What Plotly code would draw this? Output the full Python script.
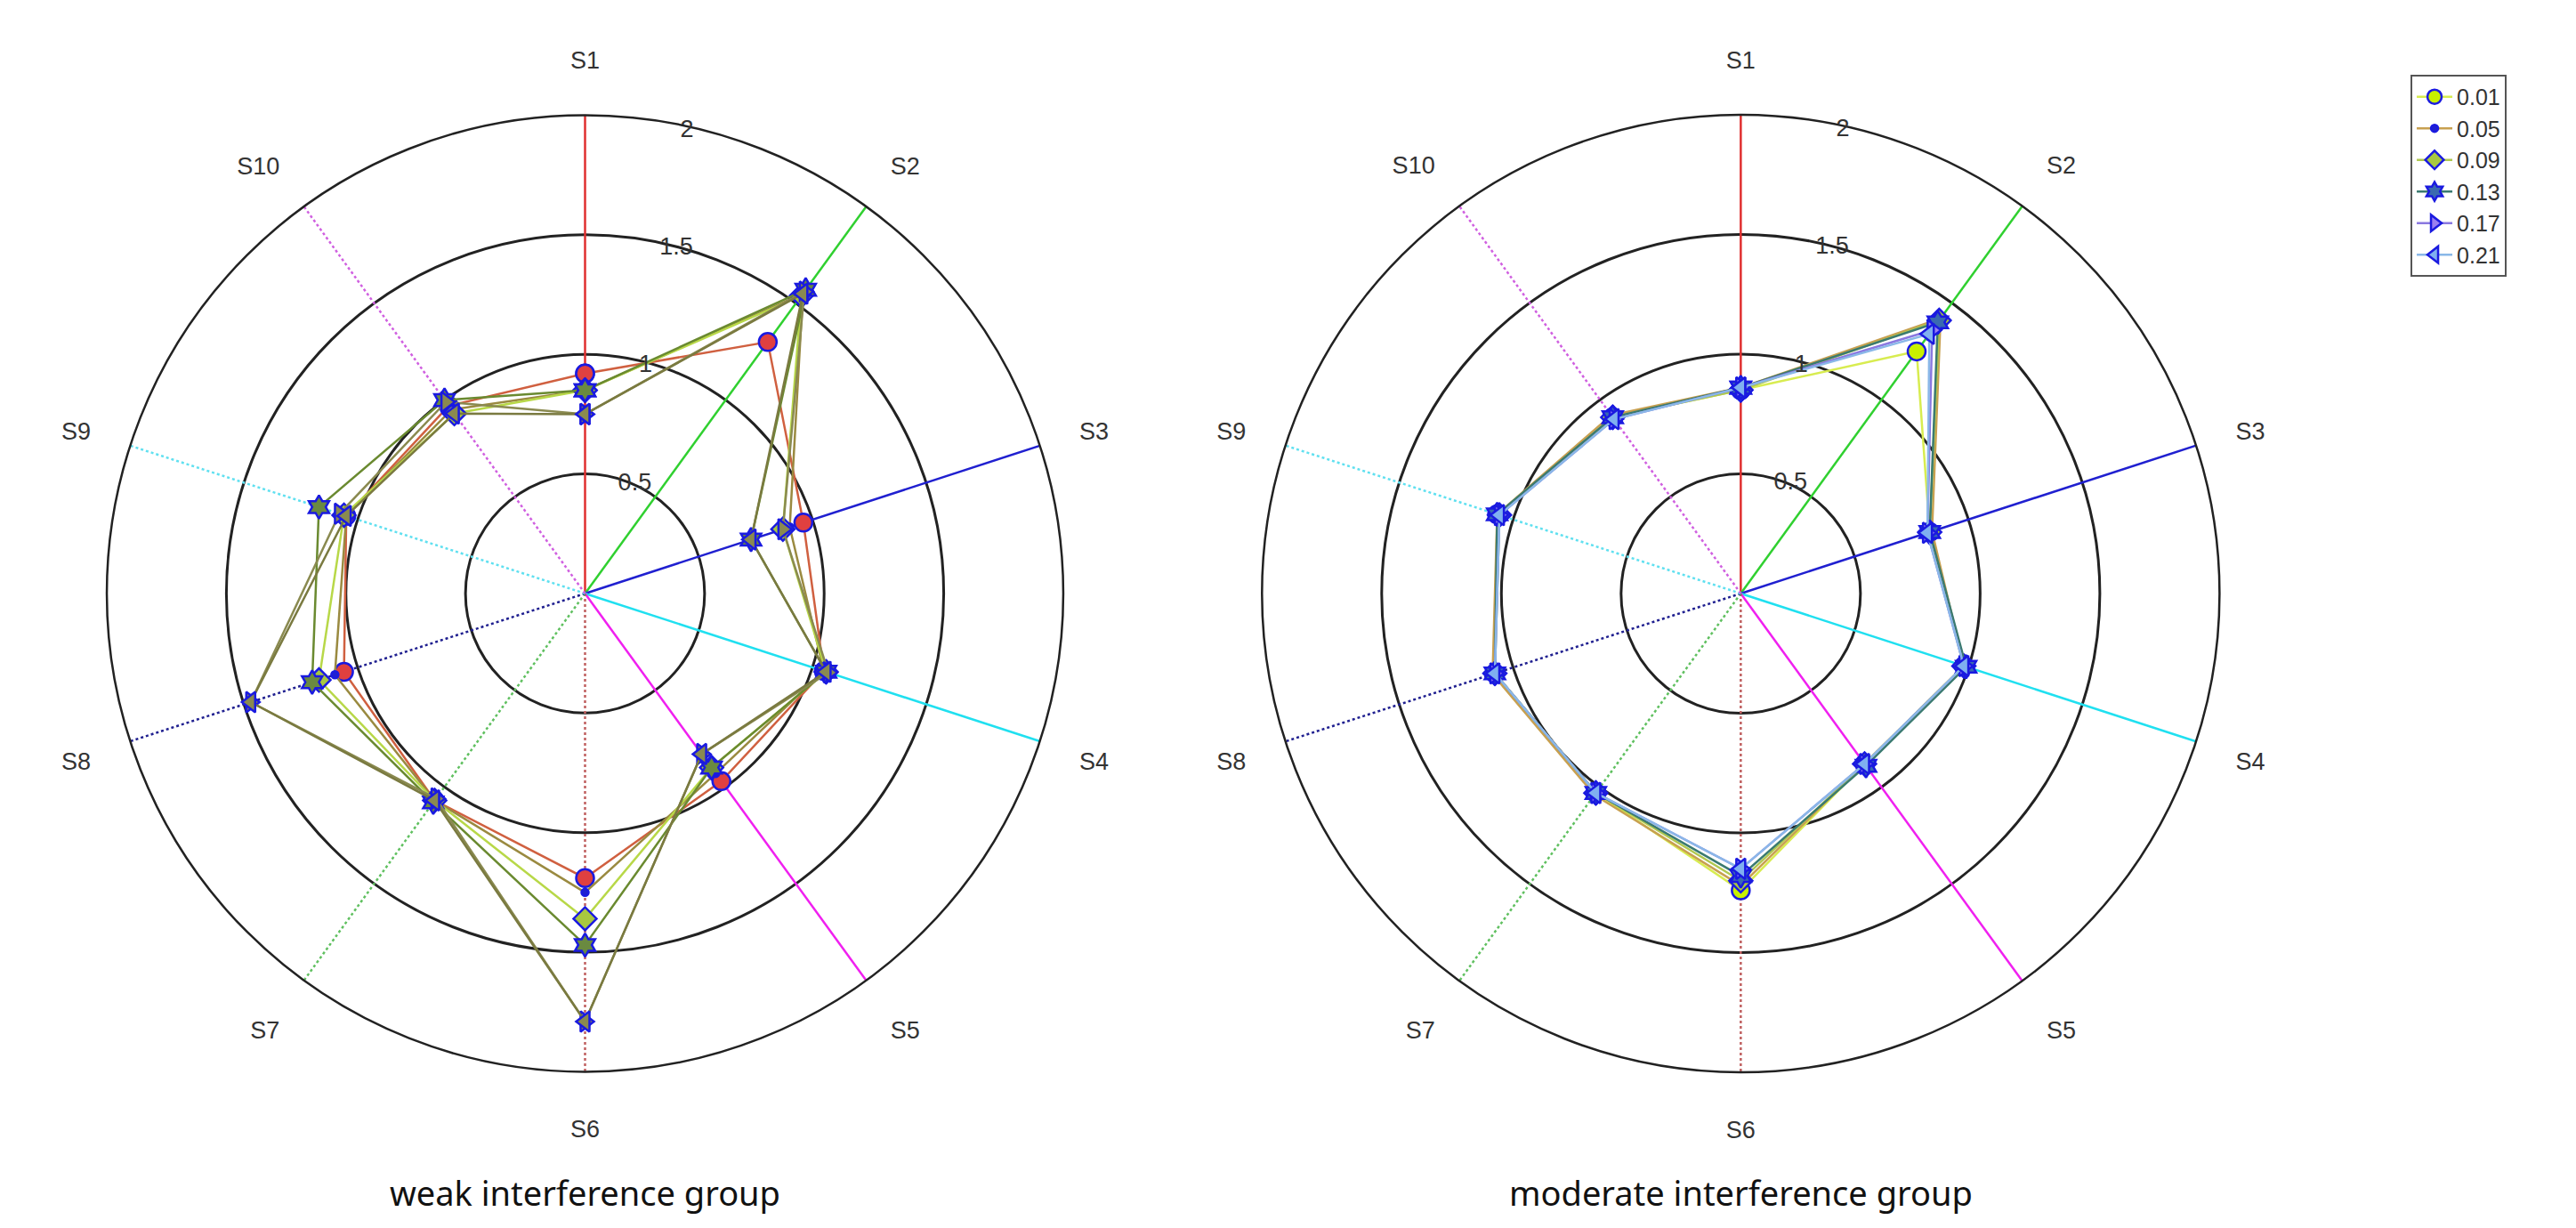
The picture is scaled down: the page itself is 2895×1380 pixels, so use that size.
import plotly.graph_objects as go

spokes = ["S1", "S2", "S3", "S4", "S5", "S6", "S7", "S8", "S9", "S10"]
angles = [0, 36, 72, 108, 144, 180, 216, 252, 288, 324]
series_names = ["0.01", "0.05", "0.09", "0.13", "0.17", "0.21"]

weak = {
    "0.01": [0.92, 1.30, 0.96, 1.05, 0.97, 1.19, 1.07, 1.06, 1.05, 0.97],
    "0.05": [0.85, 1.55, 0.90, 1.05, 0.93, 1.25, 1.07, 1.10, 1.05, 0.95],
    "0.09": [0.85, 1.54, 0.87, 1.06, 0.90, 1.36, 1.07, 1.17, 1.06, 0.93],
    "0.13": [0.85, 1.57, 0.73, 1.06, 0.90, 1.47, 1.08, 1.20, 1.17, 1.00],
    "0.17": [0.75, 1.56, 0.87, 1.07, 0.83, 1.79, 1.06, 1.47, 1.08, 0.99],
    "0.21": [0.75, 1.55, 0.73, 1.06, 0.83, 1.79, 1.07, 1.47, 1.05, 0.93],
}
moderate = {
    "0.01": [0.85, 1.25, 0.83, 0.98, 0.88, 1.24, 1.03, 1.08, 1.07, 0.91],
    "0.05": [0.86, 1.42, 0.84, 0.98, 0.88, 1.22, 1.04, 1.09, 1.07, 0.92],
    "0.09": [0.85, 1.41, 0.83, 0.98, 0.88, 1.20, 1.03, 1.08, 1.06, 0.91],
    "0.13": [0.86, 1.40, 0.83, 0.99, 0.89, 1.18, 1.03, 1.08, 1.07, 0.91],
    "0.17": [0.86, 1.36, 0.82, 0.98, 0.88, 1.15, 1.03, 1.08, 1.06, 0.90],
    "0.21": [0.86, 1.34, 0.82, 0.98, 0.88, 1.15, 1.03, 1.08, 1.06, 0.90],
}

spoke_colors = ["#e03030", "#30d030", "#2020d0", "#20e0f0", "#f020f0",
                "#c06060", "#60c060", "#202090", "#60e0f0", "#d060e0"]
spoke_dash = ["solid"] * 5 + ["dot"] * 5

symbols = ["circle", "circle", "diamond", "hexagram", "triangle-right", "triangle-left"]
sizes = [20, 8, 20, 20, 20, 20]
fills_right = ["#c8f000", "#2020d0", "#a8c840", "#3a6ab0", "#9a80f0", "#80b0f0"]
lines_right = ["#d8ec50", "#c8a050", "#b0c850", "#3a7a70", "#8a78e0", "#8ab8e8"]
fills_left = ["#e04040", "#2020d0", "#a8c840", "#6a8a40", "#8a8a50", "#8a8a50"]
lines_left = ["#d06040", "#9a8a40", "#b8d848", "#6a8a30", "#8a8a50", "#7a7a40"]

fig = go.Figure()

for pname in ["polar", "polar2"]:
    for i, a in enumerate(angles):
        fig.add_trace(go.Scatterpolar(
            r=[0, 2], theta=[a, a], mode="lines", subplot=pname,
            line=dict(color=spoke_colors[i], width=2.5, dash=spoke_dash[i]),
            showlegend=False, hoverinfo="skip"))

for pname, data, fills, lines, showleg in [("polar", weak, fills_left, lines_left, False),
                                           ("polar2", moderate, fills_right, lines_right, True)]:
    for k, name in enumerate(series_names):
        vals = data[name]
        fig.add_trace(go.Scatterpolar(
            r=vals + vals[:1], theta=angles + angles[:1], mode="lines+markers",
            subplot=pname, name=name, showlegend=showleg,
            line=dict(color=lines[k], width=2.5),
            marker=dict(symbol=symbols[k], size=sizes[k], color=fills[k],
                        line=dict(color="#1a1ae0", width=2.5))))

def polar_cfg(x0, x1):
    return dict(
        domain=dict(x=[x0, x1], y=[0.1326, 0.9124]),
        bgcolor="white",
        radialaxis=dict(range=[0, 2], tickvals=[0.5, 1, 1.5, 2], ticktext=["0.5", "1", "1.5", "2"],
                        angle=80, tickangle=80, showline=False, gridcolor="#222", gridwidth=2.5,
                        ticks="", tickfont=dict(size=27, color="#333", family="Liberation Sans")),
        angularaxis=dict(tickmode="array", tickvals=angles, ticktext=spokes,
                         direction="clockwise", rotation=90, showgrid=False,
                         showline=True, linecolor="#222", linewidth=2.5,
                         ticks="outside", ticklen=40, tickcolor="rgba(0,0,0,0)",
                         tickfont=dict(size=27, color="#333", family="Liberation Sans")),
    )

fig.update_layout(
    width=2895, height=1380, margin=dict(l=0, r=0, t=0, b=0),
    paper_bgcolor="white", plot_bgcolor="white",
    polar=polar_cfg(0.0387, 0.410),
    polar2=polar_cfg(0.487, 0.859),
    legend=dict(x=0.933, y=0.945, xanchor="left", yanchor="top",
                bordercolor="#555", borderwidth=2, bgcolor="white",
                font=dict(size=25, color="#333", family="Liberation Sans"),
                tracegroupgap=0, itemwidth=40),
    annotations=[
        dict(text="weak interference group", x=0.2245, y=0.035, xref="paper", yref="paper",
             xanchor="center", yanchor="middle", showarrow=False,
             font=dict(size=38, color="#111", family="Noto Sans")),
        dict(text="moderate interference group", x=0.673, y=0.035, xref="paper", yref="paper",
             xanchor="center", yanchor="middle", showarrow=False,
             font=dict(size=38, color="#111", family="Noto Sans")),
    ],
)

fig.write_html("out.html")
